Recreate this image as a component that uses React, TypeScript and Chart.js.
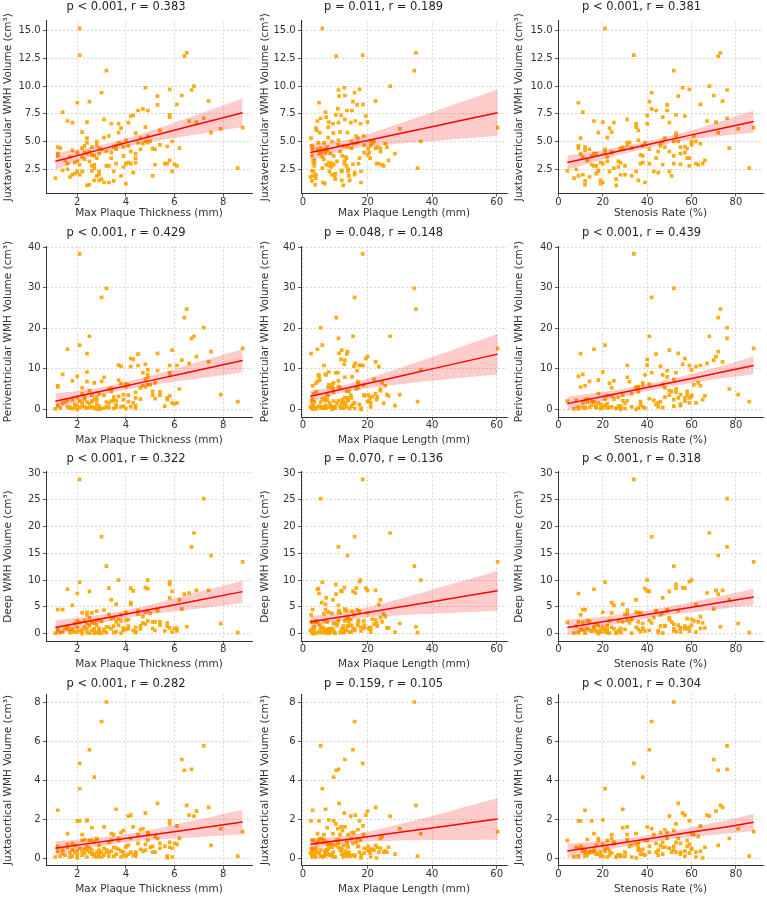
import React, { useEffect, useRef } from "react";
import { Chart, registerables } from "chart.js";

Chart.register(...registerables);
Chart.defaults.font.family = "'DejaVu Sans', sans-serif";

// ---------- patient-level values ----------
const thickness = [
  1.1, 1.2, 1.2, 1.2, 1.3, 1.4, 1.4, 1.5, 1.6, 1.6,
  1.6, 1.7, 1.7, 1.8, 1.8, 1.8, 1.9, 1.9, 2.0, 2.0,
  2.0, 2.0, 2.1, 2.1, 2.1, 2.1, 2.2, 2.2, 2.2, 2.3,
  2.3, 2.4, 2.4, 2.4, 2.4, 2.4, 2.5, 2.5, 2.5, 2.6,
  2.6, 2.6, 2.7, 2.7, 2.7, 2.8, 2.8, 2.8, 2.9, 2.9,
  3.0, 2.9, 2.9, 2.9, 2.3, 2.6, 2.2, 2.5, 2.7, 2.8,
  3.2, 3.0, 3.0, 3.1, 3.1, 3.1, 3.2, 3.2, 3.3, 3.3,
  3.4, 3.4, 3.5, 3.5, 3.5, 3.6, 3.6, 3.7, 3.7, 3.7,
  3.8, 3.8, 3.8, 3.9, 3.9, 3.9, 4.0, 4.0, 4.0, 3.3,
  3.6, 3.4, 4.1, 4.1, 4.2, 4.2, 4.2, 4.3, 4.3, 4.4,
  4.4, 4.4, 4.5, 4.5, 4.6, 4.7, 4.7, 4.8, 4.8, 4.8,
  4.9, 4.9, 4.9, 4.6, 4.4, 4.1, 5.0, 5.1, 5.1, 5.2,
  5.2, 5.3, 5.3, 5.4, 5.4, 5.6, 5.7, 5.7, 5.8, 5.8,
  5.8, 5.8, 5.9, 5.9, 6.5, 6.4, 6.8, 6.7, 6.0, 6.1,
  6.1, 6.2, 6.3, 6.6, 6.9, 7.2, 7.5, 7.4, 8.8, 8.6,
  7.9, 4.9,
];
const plaqueLength = [
  4.0, 3.0, 8.5, 2.8, 5.5, 7.0, 12.0, 3.5, 4.5, 9.0,
  14.0, 6.0, 2.3, 11.0, 7.5, 16.0, 3.2, 10.0, 5.0, 13.0,
  7.0, 18.0, 6.0, 18.5, 9.5, 4.0, 11.5, 3.3, 15.0, 6.5,
  21.0, 8.0, 2.5, 12.5, 17.0, 5.5, 15.5, 3.8, 10.5, 7.5,
  13.5, 20.0, 9.5, 14.5, 6.0, 11.0, 3.0, 17.5, 8.2, 12.0,
  16.0, 22.5, 5.0, 9.0, 19.0, 2.8, 13.2, 24.0, 7.2, 15.0,
  34.5, 10.0, 4.5, 13.0, 18.0, 7.8, 3.5, 11.5, 16.5, 6.2,
  9.3, 20.5, 2.8, 14.0, 23.0, 7.0, 12.8, 17.8, 5.2, 21.5,
  9.8, 15.8, 4.0, 12.2, 26.0, 8.8, 6.8, 17.2, 11.0, 25.0,
  2.6, 13.5, 14.8, 8.0, 19.5, 5.8, 23.5, 11.8, 16.0, 3.6,
  9.4, 20.8, 13.6, 6.5, 17.0, 10.8, 25.5, 12.8, 7.8, 22.0,
  15.2, 4.8, 18.8, 2.9, 28.5, 12.5, 9.0, 14.2, 20.2, 6.8,
  24.5, 11.2, 16.8, 4.2, 19.0, 8.6, 13.8, 22.8, 17.5, 10.2,
  7.2, 26.5, 12.0, 21.0, 35.0, 10.3, 27.0, 11.0, 15.5, 8.2,
  18.6, 24.0, 13.0, 16.2, 20.0, 5.5, 13.8, 22.5, 60.3, 35.5,
  30.0, 36.5,
];
const stenosis = [
  7, 12, 10, 15, 9, 11, 18, 13, 16, 20,
  8, 22, 14, 25, 12, 30, 19, 17, 9, 27,
  21, 35, 21, 34, 15, 11, 24, 18, 28, 13,
  38, 20, 10, 26, 32, 16, 41, 12, 22, 29,
  17, 37, 38, 19, 25, 31, 9, 44, 23, 36,
  42, 33, 17, 28, 24, 4, 11, 50, 47, 54,
  52, 26, 14, 31, 39, 22, 16, 45, 53, 20,
  35, 57, 12, 43, 48, 29, 37, 40, 18, 60,
  33, 46, 23, 52, 55, 27, 19, 41, 36, 30,
  9, 58, 50, 38, 57, 24, 62, 40, 45, 28,
  53, 59, 44, 31, 48, 42, 64, 56, 35, 52,
  49, 39, 61, 21, 55, 46, 47, 51, 58, 41,
  63, 54, 49, 36, 60, 52, 57, 65, 59, 53,
  47, 66, 50, 62, 73, 72, 68, 76, 55, 59,
  64, 77, 70, 67, 71, 76, 72, 74, 88, 86,
  81, 60,
];
const juxtaventricular = [
  1.7, 4.5, 3.9, 3.7, 4.4, 7.65, 2.4, 3.3, 6.85, 3.0,
  2.5, 3.6, 1.8, 6.7, 4.2, 2.0, 3.1, 2.1, 8.5, 3.2,
  4.0, 2.3, 15.2, 12.8, 2.9, 2.0, 5.85, 2.3, 4.4, 3.4,
  4.6, 6.75, 5.3, 1.05, 4.9, 3.9, 8.6, 1.1, 3.2, 4.5,
  2.8, 3.8, 3.7, 1.5, 2.6, 4.7, 1.9, 3.5, 2.3, 1.5,
  9.4, 4.4, 3.9, 2.0, 4.0, 2.35, 3.6, 4.1, 2.9, 5.0,
  11.4, 1.6, 4.3, 7.0, 1.3, 5.35, 2.8, 4.1, 5.5, 1.3,
  6.6, 4.0, 1.45, 2.3, 4.5, 4.3, 3.0, 6.6, 5.8, 4.85,
  1.9, 4.8, 6.2, 3.7, 4.5, 2.7, 1.2, 3.0, 5.1, 2.8,
  4.6, 3.5, 6.7, 3.1, 7.3, 4.1, 3.0, 7.35, 2.2, 3.1,
  5.75, 3.5, 7.8, 4.9, 5.3, 7.95, 4.8, 9.85, 6.3, 5.0,
  7.8, 4.9, 5.5, 4.3, 3.9, 4.6, 5.0, 1.9, 4.35, 4.3,
  2.9, 9.1, 8.3, 6.0, 4.7, 3.0, 4.55, 3.0, 9.7, 7.4,
  7.2, 3.3, 2.3, 5.0, 13.0, 12.7, 10.0, 9.65, 2.95, 2.8,
  8.35, 4.4, 9.15, 6.85, 6.75, 7.1, 5.8, 8.65, 6.25, 2.6,
  6.15, 5.0,
];
const periventricular = [
  0.1, 5.8, 5.5, 1.0, 0.3, 8.6, 1.5, 1.8, 14.8, 0.6,
  2.2, 0.3, 0.5, 7.0, 2.4, 0.2, 1.2, 0.4, 8.1, 2.9,
  1.0, 0.0, 15.8, 38.3, 2.0, 0.4, 5.3, 3.9, 0.8, 2.5,
  0.6, 9.2, 13.7, 0.3, 6.8, 1.8, 18.0, 0.4, 1.4, 3.5,
  0.6, 1.9, 6.5, 0.2, 2.5, 2.1, 0.1, 1.2, 0.5, 0.3,
  27.6, 3.8, 0.8, 0.0, 3.3, 2.0, 1.6, 4.6, 0.4, 2.8,
  29.8, 0.2, 6.9, 7.9, 0.3, 3.4, 1.8, 0.6, 5.0, 0.4,
  5.2, 2.0, 0.2, 2.2, 3.0, 2.1, 1.1, 10.9, 7.2, 3.2,
  0.6, 10.6, 6.4, 2.4, 3.6, 0.8, 0.2, 6.2, 5.6, 1.5,
  0.5, 4.4, 3.5, 6.0, 12.5, 0.6, 10.5, 12.3, 1.6, 0.3,
  4.2, 2.8, 13.6, 10.8, 5.3, 9.0, 5.8, 11.1, 5.5, 7.4,
  8.0, 8.5, 6.0, 2.5, 0.9, 1.9, 6.1, 4.4, 3.5, 2.6,
  6.5, 13.8, 9.5, 4.3, 3.5, 0.8, 2.8, 2.4, 10.8, 9.0,
  8.5, 3.3, 14.6, 1.6, 24.7, 22.6, 18.0, 17.5, 1.3, 1.6,
  10.8, 5.0, 12.1, 11.3, 13.0, 20.1, 14.2, 11.7, 15.0, 1.9,
  3.6, 9.7,
];
const deepWmh = [
  0.1, 4.5, 0.8, 0.5, 0.2, 4.5, 0.3, 1.0, 8.3, 0.9,
  1.4, 0.2, 0.6, 5.3, 0.4, 0.8, 0.3, 1.9, 7.5, 2.4,
  0.4, 1.2, 9.6, 28.8, 0.5, 2.1, 3.9, 0.0, 0.3, 2.4,
  1.0, 4.0, 3.5, 0.2, 2.0, 0.9, 7.9, 0.1, 1.5, 2.2,
  0.6, 3.9, 1.9, 0.3, 0.9, 2.5, 0.2, 4.2, 0.1, 0.8,
  18.1, 2.6, 0.4, 1.0, 1.2, 2.1, 0.7, 3.0, 0.1, 1.6,
  12.6, 0.1, 2.3, 4.4, 0.5, 0.8, 1.3, 0.2, 8.5, 1.2,
  6.3, 0.9, 0.2, 3.0, 1.4, 5.5, 0.4, 10.0, 1.6, 2.7,
  0.1, 3.5, 2.4, 0.9, 1.1, 0.6, 0.8, 2.5, 4.0, 3.6,
  2.2, 2.8, 2.6, 0.9, 8.5, 5.8, 5.5, 8.0, 0.6, 0.2,
  0.4, 1.2, 4.3, 3.7, 1.5, 2.0, 3.2, 8.6, 4.0, 1.8,
  4.2, 8.4, 2.4, 0.9, 0.3, 1.4, 3.8, 2.2, 1.0, 0.6,
  2.2, 4.3, 4.5, 2.2, 1.6, 0.5, 1.4, 2.0, 9.7, 9.2,
  6.7, 1.1, 7.9, 0.3, 1.3, 7.4, 18.8, 16.2, 1.0, 0.5,
  1.0, 6.3, 4.6, 7.6, 8.1, 25.2, 14.6, 8.1, 13.4, 0.2,
  1.9, 10.0,
];
const juxtacortical = [
  0.05, 2.45, 0.6, 0.35, 0.1, 0.4, 0.2, 0.15, 1.25, 0.7,
  0.55, 0.05, 0.25, 0.75, 0.4, 0.1, 0.3, 0.65, 1.9, 0.15,
  0.35, 0.0, 3.55, 4.85, 1.9, 0.5, 1.2, 0.9, 0.15, 0.95,
  0.45, 1.95, 1.9, 0.05, 0.6, 0.4, 5.55, 0.3, 0.9, 1.55,
  0.2, 0.4, 4.15, 0.1, 0.8, 0.95, 0.05, 0.3, 0.15, 0.4,
  7.0, 0.65, 0.25, 0.1, 0.25, 0.9, 0.35, 0.5, 0.2, 1.0,
  8.0, 0.05, 0.3, 1.6, 0.15, 0.5, 0.3, 0.4, 0.8, 0.1,
  1.25, 0.35, 0.1, 1.2, 0.55, 2.5, 0.2, 0.9, 1.0, 0.45,
  0.05, 1.3, 0.35, 1.4, 0.3, 0.15, 0.1, 0.6, 0.55, 0.3,
  0.5, 0.9, 2.15, 0.2, 2.2, 1.0, 0.3, 1.6, 0.15, 0.1,
  0.3, 0.25, 0.75, 1.2, 1.45, 1.5, 0.35, 2.3, 0.7, 0.4,
  1.3, 0.9, 1.2, 0.45, 0.2, 0.65, 0.55, 0.3, 0.6, 0.3,
  1.1, 2.8, 1.0, 0.75, 0.5, 0.6, 0.1, 0.0, 1.9, 1.75,
  0.8, 0.55, 0.5, 0.05, 2.7, 4.5, 2.15, 4.55, 0.75, 0.7,
  1.65, 1.0, 5.05, 2.2, 2.4, 5.75, 0.65, 2.6, 1.35, 0.1,
  1.5, 1.25,
];

// ---------- tick labels ----------
const thicknessTicks = [2, 4, 6, 8];
const lengthTicks = [0, 20, 40, 60];
const stenosisTicks = [0, 20, 40, 60, 80];
const jvTicks = [2.5, 5, 7.5, 10, 12.5, 15];
const pvTicks = [0, 10, 20, 30, 40];
const deepTicks = [0, 5, 10, 15, 20, 25, 30];
const jcTicks = [0, 2, 4, 6, 8];

const fitXThickness = [1.1, 2.5, 3.6, 5, 6.5, 8.8];
const fitXLength = [2.3, 8, 13, 20, 30, 40, 50, 60.3];
const fitXStenosis = [4, 20, 40, 60, 75, 88];

const fitJvThickness = [3.22, 4.02, 4.65, 5.45, 6.3, 7.6];
const ciJvThickness = [0.78, 0.45, 0.37, 0.5, 0.8, 1.28];
const fitJvLength = [4.0, 4.35, 4.66, 5.1, 5.72, 6.34, 6.97, 7.6];
const ciJvLength = [0.82, 0.55, 0.45, 0.55, 0.9, 1.3, 1.7, 2.1];
const fitJvStenosis = [3.1, 3.8, 4.7, 5.6, 6.25, 6.8];
const ciJvStenosis = [0.65, 0.42, 0.3, 0.42, 0.7, 1.0];

const fitPvThickness = [2.0, 3.82, 5.25, 7.07, 9.01, 12.0];
const ciPvThickness = [1.9, 1.15, 0.95, 1.2, 1.8, 2.85];
const fitPvLength = [3.2, 4.22, 5.12, 6.37, 8.16, 9.96, 11.75, 13.6];
const ciPvLength = [1.45, 1.05, 0.95, 1.2, 2.0, 2.9, 3.9, 5.0];
const fitPvStenosis = [1.4, 3.15, 5.35, 7.6, 9.3, 10.8];
const ciPvStenosis = [1.7, 1.15, 0.85, 1.1, 1.6, 2.2];

const fitDeepThickness = [1.15, 2.35, 3.3, 4.5, 5.82, 7.85];
const ciDeepThickness = [1.37, 0.9, 0.75, 0.92, 1.4, 2.1];
const fitDeepLength = [2.2, 2.77, 3.27, 3.97, 4.97, 5.97, 6.97, 8.0];
const ciDeepLength = [1.1, 0.8, 0.75, 0.95, 1.55, 2.25, 2.95, 3.7];
const fitDeepStenosis = [1.15, 2.23, 3.6, 4.95, 5.97, 6.85];
const ciDeepStenosis = [1.45, 0.95, 0.72, 0.95, 1.25, 1.55];

const fitJcThickness = [0.5, 0.75, 0.94, 1.18, 1.44, 1.85];
const ciJcThickness = [0.36, 0.24, 0.2, 0.26, 0.4, 0.63];
const fitJcLength = [0.7, 0.83, 0.94, 1.09, 1.32, 1.54, 1.77, 2.0];
const ciJcLength = [0.32, 0.22, 0.2, 0.25, 0.42, 0.62, 0.85, 1.07];
const fitJcStenosis = [0.36, 0.63, 0.98, 1.33, 1.58, 1.83];
const ciJcStenosis = [0.37, 0.25, 0.18, 0.25, 0.34, 0.44];

const panelTitles = [
  ["p < 0.001, r = 0.383", "p = 0.011, r = 0.189", "p < 0.001, r = 0.381"],
  ["p < 0.001, r = 0.429", "p = 0.048, r = 0.148", "p < 0.001, r = 0.439"],
  ["p < 0.001, r = 0.322", "p = 0.070, r = 0.136", "p < 0.001, r = 0.318"],
  ["p < 0.001, r = 0.282", "p = 0.159, r = 0.105", "p < 0.001, r = 0.304"],
];

const columns = [
  { values: thickness, label: "Max Plaque Thickness (mm)", ticks: thicknessTicks, min: 0.715, max: 9.185, fitX: fitXThickness },
  { values: plaqueLength, label: "Max Plaque Length (mm)", ticks: lengthTicks, min: -0.6, max: 63.2, fitX: fitXLength },
  { values: stenosis, label: "Stenosis Rate (%)", ticks: stenosisTicks, min: -0.2, max: 92.2, fitX: fitXStenosis },
];

const rows = [
  {
    values: juxtaventricular, label: "Juxtaventricular WMH Volume (cm³)", ticks: jvTicks, min: 0.3, max: 15.9, decimals: 1,
    fits: [[fitJvThickness, ciJvThickness], [fitJvLength, ciJvLength], [fitJvStenosis, ciJvStenosis]],
  },
  {
    values: periventricular, label: "Periventricular WMH Volume (cm³)", ticks: pvTicks, min: -1.9, max: 40.2, decimals: 0,
    fits: [[fitPvThickness, ciPvThickness], [fitPvLength, ciPvLength], [fitPvStenosis, ciPvStenosis]],
  },
  {
    values: deepWmh, label: "Deep WMH Volume (cm³)", ticks: deepTicks, min: -1.44, max: 30.24, decimals: 0,
    fits: [[fitDeepThickness, ciDeepThickness], [fitDeepLength, ciDeepLength], [fitDeepStenosis, ciDeepStenosis]],
  },
  {
    values: juxtacortical, label: "Juxtacortical WMH Volume (cm³)", ticks: jcTicks, min: -0.4, max: 8.4, decimals: 0,
    fits: [[fitJcThickness, ciJcThickness], [fitJcLength, ciJcLength], [fitJcStenosis, ciJcStenosis]],
  },
];

// ---------- layout ----------
const colGeom = [
  { left: 0, width: 256, axisW: 46, padR: 4, yTitlePad: 1.7, titleX: 126 },
  { left: 256, width: 255, axisW: 45, padR: 3, yTitlePad: 2.7, titleX: 383.5 },
  { left: 511, width: 256, axisW: 47, padR: 3, yTitlePad: 1.7, titleX: 641.5 },
];
const rowGeom = [
  { top: 0, height: 221, padT: 20.7, axisH: 27.4, titleY: 7.5 },
  { top: 221, height: 227, padT: 25.2, axisH: 31, titleY: 233 },
  { top: 448, height: 224, padT: 23.7, axisH: 30.6, titleY: 458.6 },
  { top: 672, height: 225, padT: 22.2, axisH: 31.2, titleY: 683.7 },
];

const TEXT = "#333333";
const SPINE = "#333333";
const GRID = "#cfcfcf";

function Panel({ r, c }: { r: number; c: number }) {
  const ref = useRef<HTMLCanvasElement | null>(null);
  const cg = colGeom[c];
  const rg = rowGeom[r];

  useEffect(() => {
    const row = rows[r];
    const col = columns[c];
    const [fitY, ciHW] = row.fits[c];
    const points = col.values.map((x, i) => ({ x, y: row.values[i] }));
    const fitLine = col.fitX.map((x, i) => ({ x, y: fitY[i] }));
    const upper = col.fitX.map((x, i) => ({ x, y: fitY[i] + ciHW[i] }));
    const lower = col.fitX.map((x, i) => ({ x, y: fitY[i] - ciHW[i] }));
    const title = panelTitles[r][c];

    const titlePlugin = {
      id: "panelTitle",
      afterDraw(chart: any) {
        const ctx = chart.ctx;
        ctx.save();
        ctx.font = "11.5px 'DejaVu Sans'";
        ctx.fillStyle = "#1f1f1f";
        ctx.textAlign = "center";
        ctx.textBaseline = "middle";
        ctx.fillText(title, cg.titleX - cg.left, rg.titleY - rg.top);
        ctx.restore();
      },
    };

    const chart = new Chart(ref.current as HTMLCanvasElement, {
      type: "scatter",
      data: {
        datasets: [
          {
            type: "line",
            data: fitLine,
            borderColor: "#ff0000",
            borderWidth: 1.5,
            pointRadius: 0,
            fill: false,
            order: 0,
          } as any,
          {
            type: "line",
            data: upper,
            borderColor: "rgba(0,0,0,0)",
            borderWidth: 0,
            pointRadius: 0,
            tension: 0.3,
            fill: "+1",
            backgroundColor: "rgba(255,0,0,0.2)",
            order: 1,
          } as any,
          {
            type: "line",
            data: lower,
            borderColor: "rgba(0,0,0,0)",
            borderWidth: 0,
            pointRadius: 0,
            tension: 0.3,
            fill: false,
            order: 1,
          } as any,
          {
            data: points,
            pointStyle: "rect",
            pointRadius: 2.6,
            pointBackgroundColor: "rgba(255,165,0,0.92)",
            pointBorderWidth: 0,
            borderWidth: 0,
            order: 2,
          } as any,
        ],
      },
      options: {
        responsive: false,
        animation: false,
        events: [],
        layout: { padding: { top: rg.padT, left: 0, right: cg.padR, bottom: 0 } },
        plugins: { legend: { display: false }, tooltip: { enabled: false }, title: { display: false } },
        scales: {
          x: {
            type: "linear",
            min: col.min,
            max: col.max,
            afterBuildTicks: (axis: any) => {
              axis.ticks = col.ticks.map((v) => ({ value: v }));
            },
            afterFit: (axis: any) => {
              axis.height = rg.axisH;
            },
            grid: { color: GRID, lineWidth: 0.8, drawTicks: true, tickLength: 3, tickColor: SPINE, tickWidth: 0.8 },
            border: { display: true, color: SPINE, width: 1, dash: [2, 2] },
            ticks: {
              color: TEXT,
              font: { size: 10, lineHeight: 1.0 },
              padding: 0.5,
              maxRotation: 0,
              autoSkip: false,
              callback: (v: any) => String(v),
            },
            title: {
              display: true,
              text: col.label,
              color: TEXT,
              font: { size: 10.5, lineHeight: 1.2 },
              padding: { top: 0, bottom: 1.7 },
            },
          },
          y: {
            type: "linear",
            min: row.min,
            max: row.max,
            afterBuildTicks: (axis: any) => {
              axis.ticks = row.ticks.map((v) => ({ value: v }));
            },
            afterFit: (axis: any) => {
              axis.width = cg.axisW;
            },
            grid: { color: GRID, lineWidth: 0.8, drawTicks: true, tickLength: 3, tickColor: SPINE, tickWidth: 0.8 },
            border: { display: true, color: SPINE, width: 1, dash: [2, 2] },
            ticks: {
              color: TEXT,
              font: { size: 10 },
              padding: 2.3,
              autoSkip: false,
              callback: (v: any) => (row.decimals ? Number(v).toFixed(1) : String(v)),
            },
            title: {
              display: true,
              text: row.label,
              color: TEXT,
              font: { size: 10.5, lineHeight: 1.2 },
              padding: { top: cg.yTitlePad, bottom: 0 },
            },
          },
        },
      },
      plugins: [titlePlugin],
    } as any);

    return () => chart.destroy();
  }, [r, c]);

  return (
    <canvas
      ref={ref}
      width={cg.width}
      height={rg.height}
      style={{ position: "absolute", left: cg.left, top: rg.top, width: cg.width, height: rg.height }}
    />
  );
}

export default function App() {
  const cells: JSX.Element[] = [];
  for (let r = 0; r < 4; r++) {
    for (let c = 0; c < 3; c++) {
      cells.push(<Panel key={`${r}-${c}`} r={r} c={c} />);
    }
  }
  return (
    <div
      style={{
        position: "absolute",
        left: 0,
        top: 0,
        width: 767,
        height: 897,
        background: "#ffffff",
        overflow: "hidden",
      }}
    >
      {cells}
    </div>
  );
}
